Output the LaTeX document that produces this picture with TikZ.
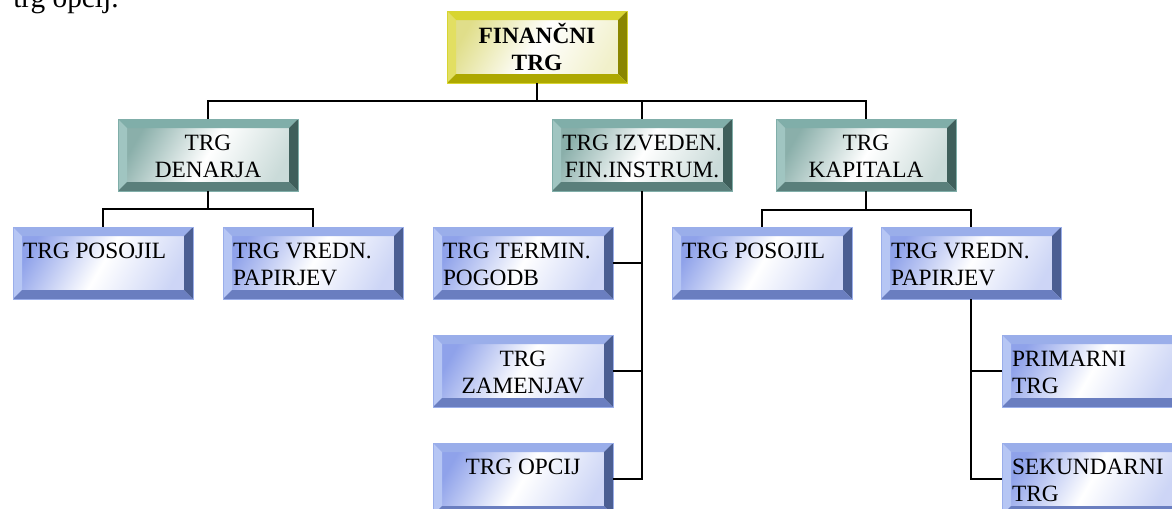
\documentclass[tikz,border=0pt]{standalone}
\usepackage{fontspec}
\setmainfont{Liberation Serif}
\usetikzlibrary{shadings}

\definecolor{ylwTop}{HTML}{D8D531}
\definecolor{ylwLeft}{HTML}{E2DF62}
\definecolor{ylwRight}{HTML}{8A8600}
\definecolor{ylwBot}{HTML}{ADA800}
\definecolor{ylwFace}{HTML}{E0DE8A}
\definecolor{tlTop}{HTML}{80AEA9}
\definecolor{tlLeft}{HTML}{A0C5C1}
\definecolor{tlRight}{HTML}{3F5F5B}
\definecolor{tlBot}{HTML}{5A7F7B}
\definecolor{tlFace}{HTML}{8AAFAA}
\definecolor{blTop}{HTML}{9AAEEA}
\definecolor{blLeft}{HTML}{B6C6F4}
\definecolor{blRight}{HTML}{4B5E92}
\definecolor{blBot}{HTML}{6A7EC0}
\definecolor{blFace}{HTML}{8FA2EA}

\newcommand{\bv}{6.75pt}
\newcommand{\boxfont}{\fontsize{17.5}{20.5}\selectfont}
\newcommand{\ctext}[1]{\parbox[c][36pt][t]{120pt}{\centering\strut #1}}
\newcommand{\ltext}[1]{\parbox[c][36pt][t]{120pt}{\raggedright\strut #1}}

\tikzset{
  bevel/.style n args={5}{draw=#2, line width=0.4pt,
    left color=#1, right color=#1!45!white, middle color=white, shading angle=60,
    minimum width=135pt, minimum height=54pt, inner sep=0pt, font=\boxfont,
    path picture={
      \path (path picture bounding box.north west) coordinate (bnw)
            (path picture bounding box.north east) coordinate (bne)
            (path picture bounding box.south west) coordinate (bsw)
            (path picture bounding box.south east) coordinate (bse);
      \fill[#2] (bnw) -- (bne) -- ([shift={(-\bv,-\bv)}]bne) -- ([shift={(\bv,-\bv)}]bnw) -- cycle;
      \fill[#3] (bnw) -- ([shift={(\bv,-\bv)}]bnw) -- ([shift={(\bv,\bv)}]bsw) -- (bsw) -- cycle;
      \fill[#4] (bne) -- (bse) -- ([shift={(-\bv,\bv)}]bse) -- ([shift={(-\bv,-\bv)}]bne) -- cycle;
      \fill[#5] (bsw) -- (bse) -- ([shift={(-\bv,\bv)}]bse) -- ([shift={(\bv,\bv)}]bsw) -- cycle;
    }},
  finbox/.style={bevel={ylwFace}{ylwTop}{ylwLeft}{ylwRight}{ylwBot}, font=\boxfont\bfseries},
  marketbox/.style={bevel={tlFace}{tlTop}{tlLeft}{tlRight}{tlBot}},
  subbox/.style={bevel={blFace}{blTop}{blLeft}{blRight}{blBot}},
  link/.style={line width=1.5pt}
}

\begin{document}
\begin{tikzpicture}[x=0.75pt, y=-0.75pt]
  \useasboundingbox (0,0) rectangle (1172,508);

  \node[anchor=base west, font=\fontsize{22}{26}\selectfont, inner sep=0pt] (prevline) at (13,7) {trg opcij.};

  % top
  \node[finbox] (fin) at (537,47) {\ctext{FINANČNI\\TRG}};

  % second level
  \node[marketbox] (den) at (208,155) {\ctext{TRG\\DENARJA}};
  \node[marketbox] (izv) at (642,155) {\ctext{TRG IZVEDEN.\\FIN.INSTRUM.}};
  \node[marketbox] (kap) at (866,155) {\ctext{TRG\\KAPITALA}};

  % third level
  \node[subbox] (posA) at (103,263) {\ltext{TRG POSOJIL}};
  \node[subbox] (vredA) at (313,263) {\ltext{TRG VREDN.\\PAPIRJEV}};
  \node[subbox] (termin) at (523,263) {\ltext{TRG TERMIN.\\POGODB}};
  \node[subbox] (zamen) at (523,371) {\ctext{TRG\\ZAMENJAV}};
  \node[subbox] (opcij) at (523,479) {\ctext{TRG OPCIJ}};
  \node[subbox] (posB) at (762,263) {\ltext{TRG POSOJIL}};
  \node[subbox] (vredB) at (971,263) {\ltext{TRG VREDN.\\PAPIRJEV}};
  \node[subbox] (prim) at (1092,371) {\ltext{PRIMARNI\\TRG}};
  \node[subbox] (sek) at (1092,479) {\ltext{SEKUNDARNI\\TRG}};

  % junctions
  \coordinate (topj) at (537,101);
  \coordinate (denj) at (208,209);
  \coordinate (kapj) at (866,210);

  \draw[link] (fin.south) -- (topj) -| (den.north);
  \draw[link] (topj) -| (izv.north);
  \draw[link] (topj) -| (kap.north);

  \draw[link] (den.south) -- (denj) -| (posA.north);
  \draw[link] (denj) -| (vredA.north);

  \draw[link] (izv.south) |- (termin.east);
  \draw[link] (izv.south) |- (zamen.east);
  \draw[link] (izv.south) |- (opcij.east);

  \draw[link] (kap.south) -- (kapj) -| (posB.north);
  \draw[link] (kapj) -| (vredB.north);

  \draw[link] (vredB.south) |- (prim.west);
  \draw[link] (vredB.south) |- (sek.west);
\end{tikzpicture}
\end{document}
